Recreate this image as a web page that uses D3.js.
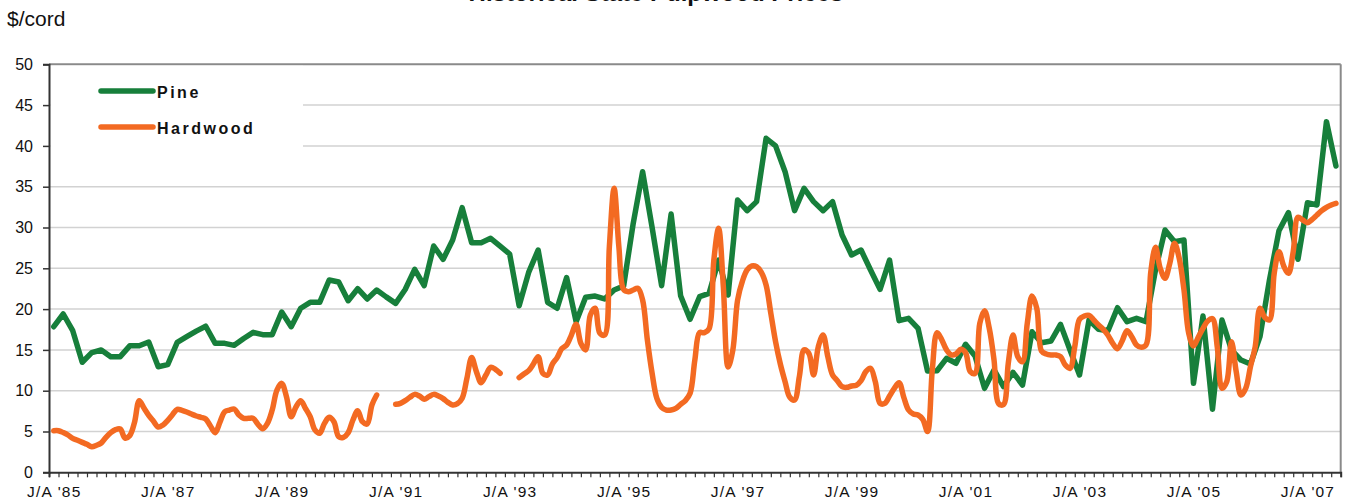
<!DOCTYPE html>
<html>
<head>
<meta charset="utf-8">
<script src="https://cdn.jsdelivr.net/npm/d3@7"></script>
<style>
  html, body { margin: 0; padding: 0; background: #fff; }
  svg { display: block; }
  text { font-family: "Liberation Sans", Arial, sans-serif; }
</style>
</head>
<body>
<svg id="chart" width="1346" height="504"></svg>
<script>
// ---------------- DATA ----------------
const chartTitle = "Historical State Pulpwood Prices";
const yAxisTitle = "$/cord";
const seriesNames = ["Pine", "Hardwood"];
const categoryCount = 136; // bimonthly periods
const xTickLabels = ["J/A '85", "J/A '87", "J/A '89", "J/A '91", "J/A '93", "J/A '95",
                     "J/A '97", "J/A '99", "J/A '01", "J/A '03", "J/A '05", "J/A '07"];
const xTickLabelEvery = 12;
const yTicks = [0, 5, 10, 15, 20, 25, 30, 35, 40, 45, 50];

// Pine: one value per bimonthly period
const pineValues = [
  17.84, 19.4, 17.35, 13.48, 14.66, 14.99, 14.17, 14.17, 15.5, 15.5,
  15.97, 12.94, 13.19, 15.93, 16.62, 17.3, 17.9, 15.8, 15.8, 15.56,
  16.4, 17.15, 16.87, 16.87, 19.64, 17.84, 20.1, 20.83, 20.83, 23.57,
  23.32, 21.03, 22.5, 21.24, 22.34, 21.5, 20.7, 22.4, 24.87, 22.87,
  27.73, 26.1, 28.47, 32.43, 28.14, 28.14, 28.68, 27.73, 26.75, 20.42,
  24.5, 27.24, 20.83, 20.1, 23.85, 18.46, 21.45, 21.6, 21.24, 22.34,
  22.83, 30.43, 36.84, 30.0, 22.87, 31.65, 21.64, 18.75, 21.52, 21.93,
  26.0, 21.73, 33.37, 32.06, 33.17, 40.93, 40.0, 36.84, 32.06, 34.8,
  33.17, 32.06, 33.17, 29.08, 26.63, 27.24, 24.79, 22.42, 26.0, 18.58,
  18.87, 17.65, 12.4, 12.45, 13.97, 13.36, 15.69, 14.25, 10.29, 12.54,
  10.49, 12.25, 10.7, 17.23, 15.88, 16.09, 18.13, 14.99, 11.92, 18.66,
  17.52, 17.35, 20.17, 18.46, 18.87, 18.46, 24.79, 29.69, 28.26, 28.47,
  10.9, 19.15, 7.72, 18.66, 15.0, 13.76, 13.27, 16.62, 23.57, 29.61,
  31.82, 26.1, 33.04, 32.76, 42.97, 37.54
];

// Hardwood: monthly values (two per bimonthly period); null = no data
const hardwoodValues = [
  5.1, 5.1, 4.87, 4.57, 4.16, 3.92, 3.67, 3.43, 3.14, 3.31,
  3.59, 4.29, 4.86, 5.23, 5.31, 4.2, 4.5, 6.1, 8.78, 7.87,
  6.98, 6.25, 5.55, 5.8, 6.37, 7.06, 7.72, 7.59, 7.39, 7.14,
  6.9, 6.74, 6.53, 5.67, 4.86, 6.16, 7.43, 7.63, 7.76, 7.02,
  6.61, 6.61, 6.61, 5.88, 5.35, 6.0, 7.63, 10.08, 10.9, 9.27,
  6.82, 8.0, 8.78, 7.84, 6.82, 5.19, 4.78, 6.0, 6.74, 6.2,
  4.37, 4.29, 4.86, 6.41, 7.55, 6.2, 5.92, 8.25, 9.47, null,
  null, null, 8.33, 8.45, 8.78, 9.19, 9.55, 9.35, 8.94, 9.27,
  9.55, 9.35, 9.03, 8.57, 8.25, 8.41, 9.07, 11.5, 14.08, 12.33,
  10.98, 11.92, 12.86, 12.62, 12.13, null, null, null, 11.6, 12.05,
  12.46, 13.27, 14.17, 12.13, 11.92, 13.27, 14.05, 15.16, 15.6, 16.82,
  18.14, 15.8, 15.0, 19.28, 20.1, 17.03, 16.82, 27.65, 34.8, 27.65,
  22.42, 22.14, 22.34, 22.55, 21.12, 16.22, 12.13, 9.06, 7.96, 7.63,
  7.63, 7.84, 8.33, 8.78, 9.68, 13.76, 17.11, 17.11, 17.6, 26.0,
  29.9, 22.75, 12.9, 15.0, 21.1, 23.4, 24.8, 25.3, 25.2, 24.5,
  22.95, 19.48, 16.0, 13.27, 11.1, 9.19, 8.86, 11.72, 15.0, 14.58,
  11.92, 15.4, 16.83, 14.17, 11.92, 11.23, 10.49, 10.41, 10.58, 10.66,
  11.23, 12.33, 12.74, 11.1, 8.45, 8.45, 9.35, 10.29, 10.98, 9.19,
  7.63, 7.14, 7.02, 6.49, 5.0, 12.54, 17.11, 16.22, 15.0, 14.38,
  14.5, 15.07, 14.66, 12.33, 12.13, 18.26, 19.8, 17.64, 13.76, 8.4,
  8.3, 13.36, 16.83, 14.17, 13.56, 18.26, 21.6, 20.1, 14.87, 14.5,
  14.38, 14.38, 14.17, 13.15, 12.74, 15.4, 18.75, 19.15, 19.24, 18.67,
  18.05, 17.52, 16.79, 15.8, 15.15, 16.13, 17.36, 16.62, 15.6, 15.32,
  15.6, 24.5, 27.57, 25.0, 23.77, 25.6, 28.06, 26.22, 22.34, 17.03,
  15.48, 16.54, 17.64, 18.54, 18.83, 15.4, 10.29, 11.1, 16.01, 12.33,
  9.47, 10.29, 12.95, 15.4, 20.1, 18.99, 18.67, 24.39, 27.04, 25.28,
  24.39, 27.04, 31.25, 30.92, 30.59, 31.0, 31.53, 32.06, 32.47, 32.76,
  32.96
];

// ---------------- STYLE ----------------
const pineColor = "#177f3b";
const hardColor = "#f36a22";
const plot = { left: 49, right: 1340.7, top: 64.3, bottom: 472.3 };

const svg = d3.select("#chart");
svg.append("rect").attr("width", 1346).attr("height", 504).attr("fill", "#fff");

const x = d3.scaleLinear().domain([0, categoryCount]).range([plot.left, plot.right]);
const y = d3.scaleLinear().domain([0, 50]).range([plot.bottom, plot.top]);

// gridlines
svg.append("g")
  .selectAll("line")
  .data(yTicks.filter(v => v > 0 && v < 50))
  .join("line")
  .attr("x1", plot.left).attr("x2", plot.right)
  .attr("y1", d => y(d)).attr("y2", d => y(d))
  .attr("stroke", "#d2d2d2").attr("stroke-width", 1.5);

// plot border top & right
svg.append("line").attr("x1", plot.left).attr("x2", plot.right)
  .attr("y1", y(50)).attr("y2", y(50)).attr("stroke", "#8a8a8a").attr("stroke-width", 2);
svg.append("line").attr("x1", plot.right).attr("x2", plot.right)
  .attr("y1", plot.top).attr("y2", plot.bottom).attr("stroke", "#8a8a8a").attr("stroke-width", 2);

// legend box (white, covers gridlines)
svg.append("rect").attr("x", plot.left + 1.5).attr("y", plot.top + 1.5)
  .attr("width", 303 - plot.left - 1.5).attr("height", 148 - plot.top - 1.5)
  .attr("fill", "#fff");

// Y axis
const yAxis = d3.axisLeft(y).tickValues(yTicks).tickSize(6).tickPadding(10)
  .tickFormat(d3.format("d"));
const gy = svg.append("g").attr("transform", `translate(${plot.left},0)`).call(yAxis);
gy.select(".domain").attr("stroke", "#333").attr("stroke-width", 2);
gy.selectAll(".tick line").attr("stroke", "#333").attr("stroke-width", 1.5);
gy.selectAll(".tick text").attr("font-size", 16).attr("fill", "#111")
  .attr("font-family", "Liberation Sans, Arial, sans-serif");

// X axis: tick marks at every category boundary
const xAxisTicks = d3.axisBottom(x).tickValues(d3.range(0, categoryCount + 1))
  .tickSize(5).tickFormat("");
const gx = svg.append("g").attr("transform", `translate(0,${plot.bottom})`).call(xAxisTicks);
gx.select(".domain").attr("stroke", "#333").attr("stroke-width", 2);
gx.selectAll(".tick line").attr("stroke", "#333").attr("stroke-width", 1.2);

// X axis labels (centered on categories)
const labelPositions = xTickLabels.map((_, k) => k * xTickLabelEvery + 0.5);
const xAxisLabels = d3.axisBottom(x).tickValues(labelPositions).tickSize(0).tickPadding(14)
  .tickFormat((d, k) => xTickLabels[k]);
const gxl = svg.append("g").attr("transform", `translate(0,${plot.bottom})`).call(xAxisLabels);
gxl.select(".domain").remove();
gxl.selectAll(".tick text").attr("font-size", 15.5).attr("fill", "#111")
  .attr("letter-spacing", "1.2px")
  .attr("font-family", "Liberation Sans, Arial, sans-serif");

// Lines
const pineLine = d3.line()
  .x((d, i) => x(i + 0.5))
  .y(d => y(d));
svg.append("path").datum(pineValues)
  .attr("d", pineLine)
  .attr("fill", "none").attr("stroke", pineColor).attr("stroke-width", 5.5)
  .attr("stroke-linejoin", "round").attr("stroke-linecap", "round");

const hardLine = d3.line()
  .defined(d => d != null)
  .x((d, j) => x(j / 2 + 0.5))
  .y(d => y(d))
  .curve(d3.curveCatmullRom.alpha(0.5));
svg.append("path").datum(hardwoodValues)
  .attr("d", hardLine)
  .attr("fill", "none").attr("stroke", hardColor).attr("stroke-width", 5.5)
  .attr("stroke-linejoin", "round").attr("stroke-linecap", "round");

// Legend
const legend = svg.append("g");
const legendItems = [
  { name: seriesNames[0], color: pineColor, y: 91 },
  { name: seriesNames[1], color: hardColor, y: 127 }
];
legendItems.forEach(it => {
  legend.append("line").attr("x1", 101).attr("x2", 153)
    .attr("y1", it.y).attr("y2", it.y)
    .attr("stroke", it.color).attr("stroke-width", 5.5).attr("stroke-linecap", "round");
  legend.append("text").attr("x", 157).attr("y", it.y + 6.5)
    .attr("font-size", 16).attr("font-weight", "bold").attr("letter-spacing", "2.5px")
    .attr("fill", "#111").text(it.name);
});

// Titles
svg.append("text").attr("x", 7).attr("y", 26).attr("font-size", 21).attr("fill", "#111")
  .text(yAxisTitle);
svg.append("text").attr("x", 656).attr("y", 1).attr("text-anchor", "middle")
  .attr("font-size", 24).attr("font-weight", "bold").attr("fill", "#111")
  .text(chartTitle);
</script>
</body>
</html>
